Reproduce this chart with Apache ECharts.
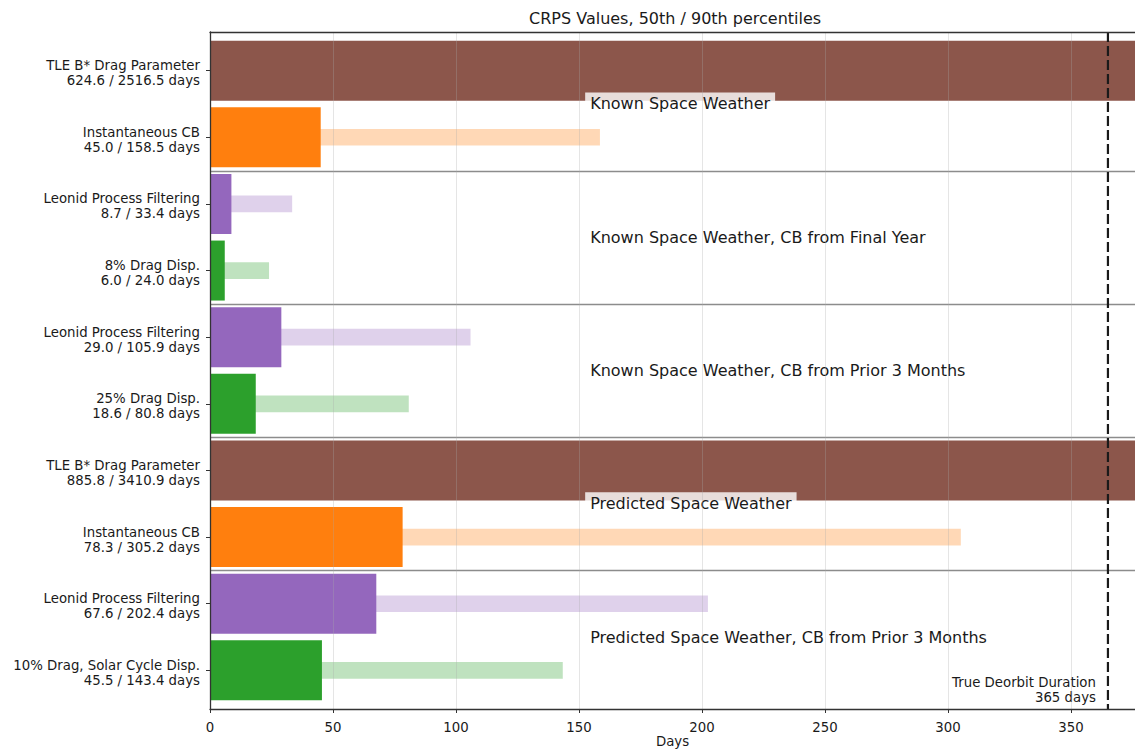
<!DOCTYPE html>
<html>
<head>
<meta charset="utf-8">
<script src="https://cdn.jsdelivr.net/npm/echarts@6/dist/echarts.min.js"></script>
<style>
html,body{margin:0;padding:0;background:#fff;}
#chart{width:1135px;height:750px;}
</style>
</head>
<body>
<div id="chart"></div>
<script>
// ---- data ----
const methodLabels = ['TLE B* Drag Parameter', 'Instantaneous CB', 'Leonid Process Filtering', '8% Drag Disp.',
  'Leonid Process Filtering', '25% Drag Disp.', 'TLE B* Drag Parameter', 'Instantaneous CB',
  'Leonid Process Filtering', '10% Drag, Solar Cycle Disp.'];
const p50Values = [624.6, 45.0, 8.7, 6.0, 29.0, 18.6, 885.8, 78.3, 67.6, 45.5];
const p90Values = [2516.5, 158.5, 33.4, 24.0, 105.9, 80.8, 3410.9, 305.2, 202.4, 143.4];
const rowColors = ['#8c564b', '#ff7f0e', '#9467bd', '#2ca02c', '#9467bd', '#2ca02c', '#8c564b', '#ff7f0e', '#9467bd', '#2ca02c'];
const groupTitles = ['Known Space Weather', 'Known Space Weather, CB from Final Year',
  'Known Space Weather, CB from Prior 3 Months', 'Predicted Space Weather',
  'Predicted Space Weather, CB from Prior 3 Months'];
const groupCenters = [0.5, 2.5, 4.5, 6.5, 8.5];
const groupSeparators = [1.5, 3.5, 5.5, 7.5];
const xTicks = [0, 50, 100, 150, 200, 250, 300, 350];
const rowTicks = [0, 1, 2, 3, 4, 5, 6, 7, 8, 9];
const trueDeorbitDays = 365;

// ---- layout constants ----
const X_MAX = 376, Y_MIN = -0.58, Y_MAX = 9.58;
const GROUP_TEXT_X = 152.5;
const FONT = '"DejaVu Sans", "Liberation Sans", sans-serif';
const TICK_FS = 13.3, BIG_FS = 16;

const chart = echarts.init(document.getElementById('chart'), null, {renderer: 'svg'});

function barRenderer(heightFrac, alpha) {
  return function (params, api) {
    const v = api.value(0), row = api.value(1);
    const start = api.coord([0, row]);
    const end = api.coord([v, row]);
    const h = api.size([0, heightFrac])[1];
    const cs = params.coordSys;
    const rect = echarts.graphic.clipRectByRect(
      {x: start[0], y: start[1] - h / 2, width: end[0] - start[0], height: h},
      {x: cs.x, y: cs.y, width: cs.width, height: cs.height});
    if (!rect) return;
    return {type: 'rect', shape: rect, style: {fill: rowColors[row], opacity: alpha}};
  };
}

function overlayRenderer(params, api) {
  const cs = params.coordSys;
  const children = [];
  groupSeparators.forEach(s => {
    const y = Math.round(api.coord([0, s])[1]) + 0.5;
    children.push({type: 'line', shape: {x1: cs.x, y1: y, x2: cs.x + cs.width, y2: y},
      style: {stroke: '#8c8c8c', lineWidth: 1.4}});
  });
  groupTitles.forEach((t, k) => {
    const p = api.coord([GROUP_TEXT_X, groupCenters[k]]);
    children.push({type: 'text', x: p[0], y: p[1], z2: 5,
      style: {text: t, fill: '#1a1a1a', font: BIG_FS + 'px ' + FONT, fontSize: BIG_FS, fontFamily: FONT,
        align: 'left', verticalAlign: 'middle', textAlign: 'left', textVerticalAlign: 'middle',
        backgroundColor: 'rgba(255,255,255,0.8)', padding: [4, 5, 3, 5]}});
  });
  const top = api.coord([trueDeorbitDays, Y_MIN]);
  const bot = api.coord([trueDeorbitDays, Y_MAX]);
  children.push({type: 'line', z2: 10, shape: {x1: top[0], y1: top[1], x2: bot[0], y2: bot[1]},
    style: {stroke: '#1a1a1a', lineWidth: 2.2, lineDash: [10, 4]}});
  children.push({type: 'text', x: bot[0] - 12, y: bot[1] - 4, z2: 10,
    style: {text: 'True Deorbit Duration\n' + trueDeorbitDays + ' days', fill: '#1a1a1a',
      font: TICK_FS + 'px ' + FONT, fontSize: TICK_FS, fontFamily: FONT, lineHeight: 15,
      align: 'right', verticalAlign: 'bottom', textAlign: 'right', textVerticalAlign: 'bottom'}});
  return {type: 'group', children: children};
}

const option = {
  backgroundColor: '#ffffff',
  animation: false,
  textStyle: {fontFamily: FONT},
  grid: {left: 210, right: 0, top: 32, bottom: 41, containLabel: false, outerBoundsMode: 'none'},
  graphic: [{
    type: 'text', left: 676 - 147, top: 10,
    style: {text: 'CRPS Values, 50th / 90th percentiles', fill: '#1a1a1a', font: BIG_FS + 'px ' + FONT}
  }],
  xAxis: [{
    type: 'value', min: 0, max: X_MAX, interval: 50, z: 10,
    name: 'Days', nameLocation: 'middle', nameGap: 26, nameMoveOverlap: false,
    nameTextStyle: {color: '#1a1a1a', fontSize: TICK_FS, fontFamily: FONT},
    axisLine: {show: true, onZero: false, lineStyle: {color: '#333', width: 1.3}},
    axisTick: {show: true, length: 4, lineStyle: {color: '#333', width: 1}, customValues: xTicks},
    axisLabel: {color: '#1a1a1a', fontSize: TICK_FS, fontFamily: FONT, margin: 12, customValues: xTicks,
      formatter: v => String(v)},
    splitLine: {show: true, lineStyle: {color: 'rgba(170,170,170,0.3)', width: 1}}
  }, {
    type: 'value', position: 'top', min: 0, max: X_MAX, z: 10,
    axisLine: {show: true, onZero: false, lineStyle: {color: '#333', width: 1.3}},
    axisTick: {show: false}, axisLabel: {show: false}, splitLine: {show: false}
  }],
  yAxis: {
    type: 'value', inverse: true, min: Y_MIN, max: Y_MAX, z: 10,
    axisLine: {show: true, onZero: false, lineStyle: {color: '#333', width: 1.3}},
    axisTick: {show: true, length: 4, lineStyle: {color: '#333', width: 1}, customValues: rowTicks},
    axisLabel: {
      customValues: rowTicks, color: '#1a1a1a', fontSize: TICK_FS, fontFamily: FONT, margin: 10,
      lineHeight: 15, align: 'right',
      formatter: v => '{s| }\n{a|' + methodLabels[v] + '}\n{a|' + p50Values[v].toFixed(1) + ' / ' + p90Values[v].toFixed(1) + ' days}',
      rich: {
        s: {fontSize: 1, lineHeight: 5, height: 5},
        a: {fontSize: TICK_FS, fontFamily: FONT, color: '#1a1a1a', lineHeight: 15, height: 15, align: 'right'}
      }
    },
    splitLine: {show: false}
  },
  series: [{
    type: 'custom', name: '90th percentile', z: 2,
    renderItem: barRenderer(0.25, 0.3),
    encode: {x: 0, y: 1},
    data: p90Values.map((v, i) => [v, i])
  }, {
    type: 'custom', name: '50th percentile', z: 3,
    renderItem: barRenderer(0.9, 1),
    encode: {x: 0, y: 1},
    data: p50Values.map((v, i) => [v, i])
  }, {
    type: 'custom', name: 'annotations', z: 4, silent: true,
    renderItem: overlayRenderer,
    encode: {x: 0, y: 1},
    data: [[0, 0]]
  }]
};
chart.setOption(option);
</script>
</body>
</html>
